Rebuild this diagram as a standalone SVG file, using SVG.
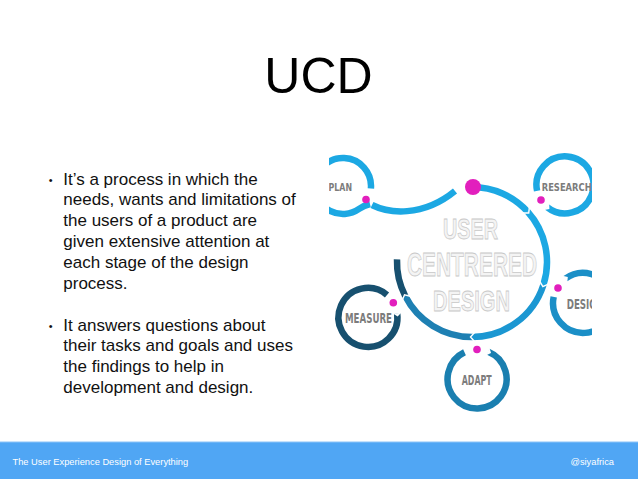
<svg xmlns="http://www.w3.org/2000/svg" width="638" height="479" viewBox="0 0 638 479">
  <defs>
    <style>
      .arc{fill:none;stroke-width:6.5;stroke-linecap:butt}
      .lt{stroke:#1ca8e3}
      .md{stroke:#1b97d2}
      .mb{stroke:#1e80b3}
      .dk{stroke:#17506f}
      .ds{stroke:#1b8fc7}
      .ad{stroke:#1a7fb0}
      .chev{fill:none;stroke:#fff;stroke-width:1.4}
      .notch{fill:#fff}
      .dot{fill:#e21fbd}
      .lbl{font-family:"DejaVu Sans Condensed","DejaVu Sans",sans-serif;font-weight:bold;fill:#7c7c7c}
      .big{font-family:"Liberation Sans Narrow","Liberation Sans",Arial,sans-serif;font-weight:bold;fill:#f4f4f4;stroke:#c8c8c8;stroke-width:0.8}
      .body{font-family:"Liberation Sans",Arial,sans-serif;font-size:17px;fill:#111}
      .bul{font-family:"Liberation Sans",Arial,sans-serif;font-size:11px;fill:#111}
      .foot{font-family:"Liberation Sans",Arial,sans-serif;font-size:9.3px;fill:#fff}
    </style>
    <clipPath id="pic"><rect x="329" y="146" width="263" height="270"/></clipPath>
  </defs>
  <rect width="638" height="479" fill="#fff"/>

  <g id="title">
    <text x="318.5" y="93.3" text-anchor="middle" font-family="Liberation Sans, Arial, sans-serif" font-size="50" fill="#000">UCD</text>
  </g>

  <g id="bullets">
    <text class="bul" x="48.8" y="184.3">•</text>
    <text class="body" x="63.3" y="184.5">It’s a process in which the</text>
    <text class="body" x="63.3" y="205.3">needs, wants and limitations of</text>
    <text class="body" x="63.3" y="226.1">the users of a product are</text>
    <text class="body" x="63.3" y="246.9">given extensive attention at</text>
    <text class="body" x="63.3" y="267.7">each stage of the design</text>
    <text class="body" x="63.3" y="288.5">process.</text>
    <text class="bul" x="48.8" y="330.3">•</text>
    <text class="body" x="63.3" y="330.5">It answers questions about</text>
    <text class="body" x="63.3" y="351.3">their tasks and goals and uses</text>
    <text class="body" x="63.3" y="372.1">the findings to help in</text>
    <text class="body" x="63.3" y="392.9">development and design.</text>
  </g>

  <g id="diagram" clip-path="url(#pic)">
    <g id="connectors">
      <path class="arc lt" d="M 472 187 A 75 75 0 0 1 527.7 211.8"/>
      <path class="arc lt" d="M 527.7 211.8 A 75 75 0 0 1 543.3 285.2"/>
      <path class="arc md" d="M 543.3 285.2 A 75 75 0 0 1 472 337"/>
      <path class="arc mb" d="M 472 337 A 75 75 0 0 1 405.2 296"/>
      <path class="arc dk" d="M 405.2 296 A 75 75 0 0 1 397 259.4"/>
      <polyline class="chev" transform="translate(472 262) rotate(-42) translate(75 0)" points="-4.5,-2.5 0,1.5 4.5,-2.5"/>
      <polyline class="chev" transform="translate(472 262) rotate(18) translate(75 0)" points="-4.5,-2.5 0,1.5 4.5,-2.5"/>
      <polyline class="chev" transform="translate(472 262) rotate(90) translate(75 0)" points="-4.5,-2.5 0,1.5 4.5,-2.5"/>
      <polyline class="chev" transform="translate(472 262) rotate(153) translate(75 0)" points="-4.5,-2.5 0,1.5 4.5,-2.5"/>
      <path class="arc lt" d="M 372 205 C 388 213 422 218 455 191"/>
    </g>

    <g id="hub">
      <text class="big" x="443" y="239" font-size="30" textLength="55" lengthAdjust="spacingAndGlyphs">USER</text>
      <text class="big" x="407" y="276" font-size="33" textLength="130" lengthAdjust="spacingAndGlyphs">CENTRERED</text>
      <text class="big" x="433" y="310.5" font-size="30" textLength="77" lengthAdjust="spacingAndGlyphs">DESIGN</text>
      <circle class="dot" cx="473" cy="187" r="8"/>
    </g>

    <g id="plan">
      <path class="arc lt" d="M 315 186 A 28 28 0 1 1 370.9 188.4"/>
      <path class="arc lt" d="M 315 186 A 28 28 0 0 0 359.1 208.9 Q 364 205.5 370 204"/>
      <circle class="dot" cx="366" cy="199.5" r="3.8"/>
      <text class="lbl" x="328.5" y="190.7" font-size="10" textLength="23.5" lengthAdjust="spacingAndGlyphs">PLAN</text>
    </g>

    <g id="research">
      <path class="arc lt" d="M 537.1 190.9 A 28.5 28.5 0 1 1 547.1 207.1"/>
      <polygon class="notch" transform="translate(565 185) rotate(129) translate(28.5 0)" points="-4,0.5 4,0.5 0,-3"/>
      <circle class="dot" cx="541" cy="200" r="3.8"/>
      <text class="lbl" x="541.7" y="190.7" font-size="11" textLength="50" lengthAdjust="spacingAndGlyphs">RESEARCH</text>
    </g>

    <g id="design">
      <path class="arc ds" d="M 565.4 278.7 A 30 30 0 1 1 553.7 296.8"/>
      <polygon class="notch" transform="translate(583 303) rotate(234) translate(30 0)" points="-4,-0.5 4,-0.5 0,3"/>
      <circle class="dot" cx="558" cy="288" r="3.8"/>
      <text class="lbl" x="566.7" y="309.3" font-size="13.7" textLength="37" lengthAdjust="spacingAndGlyphs">DESIGN</text>
    </g>

    <g id="adapt">
      <path class="arc ad" d="M 488.3 351.7 A 29.5 29.5 0 1 1 464.5 352.3"/>
      <polygon class="notch" transform="translate(477 379) rotate(292.5) translate(29.5 0)" points="-4,-0.5 4,-0.5 0,3"/>
      <circle class="dot" cx="477" cy="349.5" r="3.8"/>
      <text class="lbl" x="461.7" y="385" font-size="13.7" textLength="30" lengthAdjust="spacingAndGlyphs">ADAPT</text>
    </g>

    <g id="measure">
      <path class="arc dk" d="M 387 294.9 A 29.5 29.5 0 1 0 397.2 313.6"/>
      <polygon class="notch" transform="translate(368 317.5) rotate(-7.5) translate(29.5 0)" points="-4,-0.5 4,-0.5 0,3"/>
      <circle class="dot" cx="393.3" cy="302.7" r="3.8"/>
      <text class="lbl" x="345" y="322.7" font-size="14.4" textLength="47" lengthAdjust="spacingAndGlyphs">MEASURE</text>
    </g>
  </g>

  <g id="footer">
    <rect x="0" y="442" width="638" height="37" fill="#50a6f4"/>
    <rect x="0" y="441.5" width="638" height="1" fill="#8cc4f7"/>
    <text class="foot" x="12.5" y="464.5">The User Experience Design of Everything</text>
    <text class="foot" x="614" y="464.5" text-anchor="end">@siyafrica</text>
  </g>
</svg>
